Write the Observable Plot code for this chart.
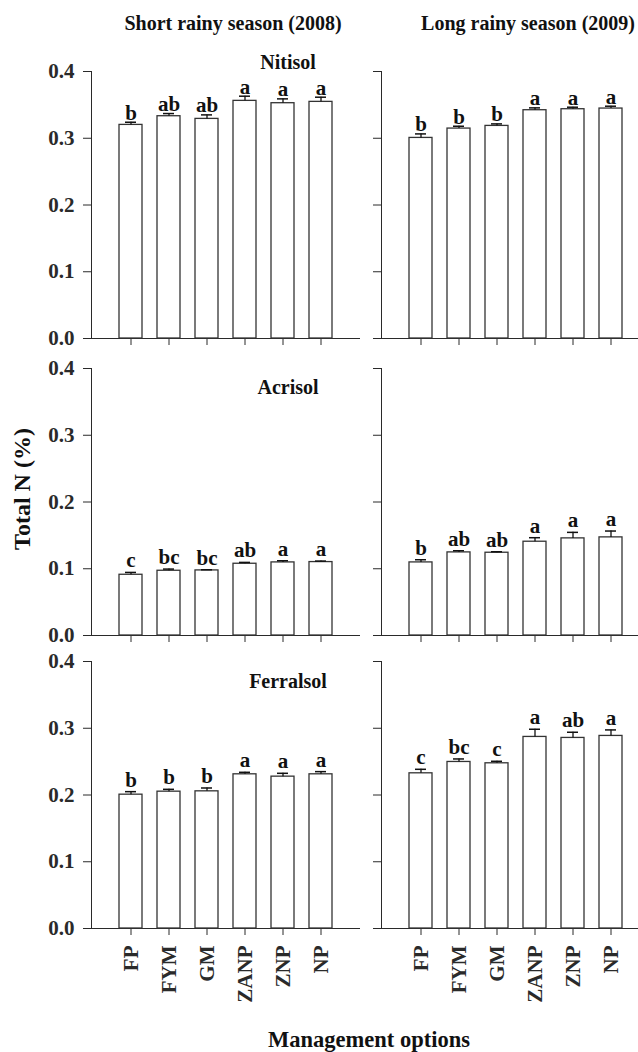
<!DOCTYPE html>
<html><head><meta charset="utf-8">
<script src="https://cdn.jsdelivr.net/npm/d3@7"></script>
<script src="https://cdn.jsdelivr.net/npm/@observablehq/plot@0.6"></script>
<style>
html,body{margin:0;padding:0;background:#fff;overflow:hidden}
#wrap{position:relative;width:638px;height:1052px;overflow:hidden;font-family:"Liberation Serif","Times New Roman",serif;font-weight:bold;color:#111}
.lbl{position:absolute;white-space:nowrap;transform:translate(-50%,-50%);line-height:1}
.panel{position:absolute}
.panel svg{max-width:none !important}
</style></head><body><div id="wrap"></div>
<script>
// ---- data ----
const options = ["FP", "FYM", "GM", "ZANP", "ZNP", "NP"];
const seasons = ["Short rainy season (2008)", "Long rainy season (2009)"];
const soils = ["Nitisol", "Acrisol", "Ferralsol"];
const yTicks = [0, 0.1, 0.2, 0.3, 0.4];
const yTitle = "Total N (%)";
const xTitle = "Management options";

const nitisol2008 = [0.320, 0.333, 0.329, 0.356, 0.3525, 0.3545];
const nitisol2008Err = [0.004, 0.004, 0.006, 0.007, 0.0065, 0.007];
const nitisol2008Letters = ["b", "ab", "ab", "a", "a", "a"];

const nitisol2009 = [0.3005, 0.3145, 0.3185, 0.342, 0.3435, 0.3445];
const nitisol2009Err = [0.006, 0.0035, 0.003, 0.0035, 0.003, 0.0035];
const nitisol2009Letters = ["b", "b", "b", "a", "a", "a"];

const acrisol2008 = [0.091, 0.097, 0.0975, 0.1075, 0.1095, 0.110];
const acrisol2008Err = [0.0035, 0.0025, 0.001, 0.002, 0.0025, 0.0015];
const acrisol2008Letters = ["c", "bc", "bc", "ab", "a", "a"];

const acrisol2009 = [0.1095, 0.1245, 0.124, 0.1405, 0.1455, 0.147];
const acrisol2009Err = [0.004, 0.0025, 0.0015, 0.006, 0.009, 0.0095];
const acrisol2009Letters = ["b", "ab", "ab", "a", "a", "a"];

const ferralsol2008 = [0.2005, 0.205, 0.2055, 0.231, 0.2275, 0.231];
const ferralsol2008Err = [0.0045, 0.0035, 0.005, 0.003, 0.005, 0.004];
const ferralsol2008Letters = ["b", "b", "b", "a", "a", "a"];

const ferralsol2009 = [0.2325, 0.2495, 0.2475, 0.287, 0.2855, 0.2885];
const ferralsol2009Err = [0.006, 0.0045, 0.003, 0.0115, 0.0085, 0.009];
const ferralsol2009Letters = ["c", "bc", "c", "a", "ab", "a"];

// ---- layout ----
const wrap = document.getElementById("wrap");
const FONT = '"Liberation Serif","Times New Roman",serif';
function label(text, x, y, size, rotate) {
  const d = document.createElement("div");
  d.className = "lbl";
  d.textContent = text;
  d.style.left = x + "px";
  d.style.top = y + "px";
  d.style.fontSize = size + "px";
  if (rotate) d.style.transform = "translate(-50%,-50%) rotate(-90deg)";
  wrap.appendChild(d);
}

const rows = [
  {soil: soils[0], top: 70.5, sets: [[nitisol2008, nitisol2008Err, nitisol2008Letters], [nitisol2009, nitisol2009Err, nitisol2009Letters]], dy: -2.5, soilY: 62},
  {soil: soils[1], top: 367.7, sets: [[acrisol2008, acrisol2008Err, acrisol2008Letters], [acrisol2009, acrisol2009Err, acrisol2009Letters]], dy: -5, soilY: 387},
  {soil: soils[2], top: 661, sets: [[ferralsol2008, ferralsol2008Err, ferralsol2008Letters], [ferralsol2009, ferralsol2009Err, ferralsol2009Letters]], dy: -5, soilY: 681}
];
const innerH = 267, innerW = 268, mTop = 10;

rows.forEach((row, ri) => {
  const last = ri === rows.length - 1;
  row.sets.forEach(([vals, errs, letters], ci) => {
    const data = options.map((o, i) => ({opt: o, v: vals[i], e: errs[i], top: vals[i] + errs[i], l: letters[i]}));
    const mLeft = ci === 0 ? 91 : 12;
    const mBottom = last ? 80 : 12;
    const W = mLeft + innerW + 2;
    const chart = Plot.plot({
      width: W,
      height: mTop + innerH + mBottom,
      marginLeft: mLeft, marginRight: 2, marginTop: mTop, marginBottom: mBottom,
      style: {fontFamily: FONT, fontWeight: "bold", fontSize: "21px", color: "#2a2a2a", background: "white", overflow: "visible", maxWidth: "none"},
      x: {type: "band", domain: options, paddingInner: 0.4, paddingOuter: 0.7, line: true,
          tickSize: 7, tickRotate: last ? -90 : 0, tickPadding: 10,
          tickFormat: last ? (d => d) : (() => ""), label: null},
      y: {domain: [0, 0.4], ticks: yTicks, tickSize: 8, tickPadding: 9, line: true,
          tickFormat: ci === 0 ? d3.format(".1f") : (() => ""), label: null},
      marks: [
        Plot.barY(data, {x: "opt", y: "v", fill: "white", stroke: "#333", strokeWidth: 1.3}),
        Plot.ruleX(data, {x: "opt", y1: "v", y2: "top", stroke: "#111", strokeWidth: 1.3}),
        Plot.tickY(data, {x: "opt", y: "top", stroke: "#111", strokeWidth: 1.5, insetLeft: 6, insetRight: 6}),
        Plot.text(data, {x: "opt", y: "top", text: "l", lineAnchor: "bottom", dy: row.dy, fill: "#111",
          fontSize: 21, fontWeight: "bold", fontFamily: FONT})
      ]
    });
    const holder = document.createElement("div");
    holder.className = "panel";
    holder.style.left = (ci === 0 ? 0 : 381 - mLeft) + "px";
    holder.style.top = (row.top - mTop) + "px";
    holder.style.width = W + "px";
    holder.appendChild(chart);
    wrap.appendChild(holder);
  });
  label(row.soil, 288, row.soilY, 20);
});

label(seasons[0], 233, 23, 20);
label(seasons[1], 528, 23, 20);
label(yTitle, 22, 489, 24, true);
label(xTitle, 369, 1040, 22.5);
</script></body></html>
